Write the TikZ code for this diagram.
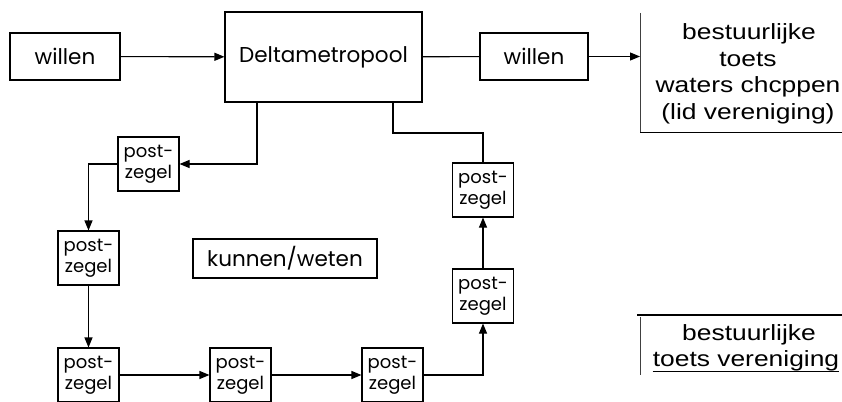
\documentclass[tikz,border=0pt]{standalone}
\usepackage{fontspec}
\newfontfamily\boxfont{Poppins}
\newfontfamily\notefont[FakeStretch=1.2]{Liberation Sans}
\usetikzlibrary{arrows.meta}
\begin{document}
\begin{tikzpicture}[x=1pt,y=-1pt,
  box/.style={draw,line width=1.1pt,inner sep=0pt,font=\boxfont\fontsize{21.5}{21}\selectfont},
  stamp/.style={draw,line width=1.1pt,inner sep=0pt,minimum width=61pt,minimum height=54pt,
    align=center,font=\boxfont\fontsize{18}{21}\selectfont},
  flow/.style={line width=1.1pt,-{Triangle[length=10pt,width=8pt]}},
  link/.style={line width=1.1pt},
  note/.style={font=\notefont\fontsize{22}{26.5}\selectfont,inner sep=0pt,anchor=base},
  rulebar/.style={line width=1.8pt},
  bracket/.style={line width=1pt,black!75}]
\useasboundingbox (0,0) rectangle (842,401);

% top row
\node[box,minimum width=110pt,minimum height=47pt] (w1) at (65,56.5) {willen};
\node[box,minimum width=197pt,minimum height=90pt] (delta) at (323.5,57) {Deltametropool};
\node[box,minimum width=108pt,minimum height=47pt] (w2) at (534,56.5) {willen};
\coordinate (t1) at (640,56.5);

\draw[flow] (w1) -- (delta);
\draw[link] (delta) -- (w2);
\draw[flow] (w2) -- (t1);

% upper annotation
\draw[bracket] (640,13) -- (640,133);
\draw[rulebar] (640,132.5) -- (842,132.5);
\node[note] (n1a) at (749,40) {bestuurlijke};
\node[note] (n1b) at (748,66.5) {toets};
\node[note] (n1c) at (748,93) {waters chcppen};
\node[note] (n1d) at (748,119.5) {(lid vereniging)};

% lower annotation
\draw[rulebar] (637,315) -- (842,315);
\draw[bracket] (640,317) -- (640,375);
\node[note] (n2a) at (749,340) {bestuurlijke};
\node[note] (n2b) at (746,366.5) {toets vereniging};
\draw[line width=1.5pt] (n2b.south west) -- (n2b.south east);

% centre label
\node[box,minimum width=184pt,minimum height=39pt] (kw) at (285,258.5) {kunnen/weten};

% stamp chain
\node[stamp] (p1) at (148.5,164) {post-\\zegel};
\node[stamp] (p2) at (88.5,258) {post-\\zegel};
\node[stamp] (p3) at (88.5,375) {post-\\zegel};
\node[stamp] (p4) at (240.5,375) {post-\\zegel};
\node[stamp] (p5) at (392.5,375) {post-\\zegel};
\node[stamp] (p6) at (483,296) {post-\\zegel};
\node[stamp] (p7) at (483,190) {post-\\zegel};

\draw[flow] (delta.south -| 257,0) |- (p1.east);
\draw[flow] (p1.west) -| (p2.north);
\draw[flow] (p2) -- (p3);
\draw[flow] (p3) -- (p4);
\draw[flow] (p4) -- (p5);
\draw[flow] (p5.east) -| (p6.south);
\draw[flow] (p6) -- (p7);
\draw[link] (p7.north) |- (393,133) -- (delta.south -| 393,0);
\end{tikzpicture}
\end{document}
